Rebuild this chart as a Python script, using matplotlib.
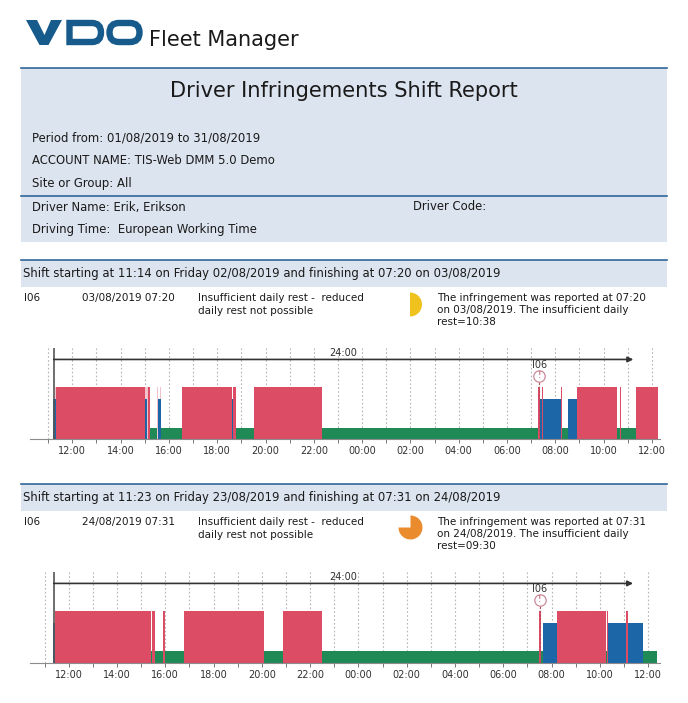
import matplotlib
matplotlib.use("Agg")
import matplotlib.pyplot as plt
from matplotlib.patches import Rectangle, Polygon, FancyBboxPatch, PathPatch
from matplotlib.path import Path

# activity heights on the chart, rest is low, work middle, driving tall
LEVELS = {"rest": 1.0, "pale": 4.5, "work": 3.5, "drive": 4.5}
COLORS = {"rest": "#1f8a55", "pale": "#f3c3cc", "work": "#1c66a8", "drive": "#dc4c64"}

# shift 1, hours counted from midnight of the start day
shift1_start = 11.23
shift1 = [
    ("work", 11.21, 11.33), ("pale", 11.27, 11.33), ("drive", 11.33, 15.0), ("pale", 15.0, 15.14),
    ("work", 15.0, 15.08), ("rest", 15.08, 15.52), ("drive", 15.15, 15.2),
    ("pale", 15.52, 15.56), ("work", 15.55, 15.66), ("pale", 15.65, 15.69),
    ("rest", 15.69, 16.54), ("drive", 16.54, 18.6), ("work", 18.6, 18.64),
    ("drive", 18.64, 18.76), ("rest", 18.76, 19.52), ("drive", 19.52, 22.33),
    ("rest", 22.33, 31.32), ("drive", 31.3, 31.37), ("work", 31.37, 31.44),
    ("drive", 31.44, 31.5), ("work", 31.5, 32.25), ("drive", 32.24, 32.29),
    ("rest", 32.29, 32.54), ("work", 32.54, 32.91), ("drive", 32.91, 34.57),
    ("rest", 34.57, 34.68), ("drive", 34.68, 34.72), ("rest", 34.72, 35.34),
    ("drive", 35.34, 36.24),
]
shift1_marker = 31.33

# shift 2
shift2_start = 11.38
shift2 = [
    ("work", 11.36, 11.45), ("drive", 11.45, 15.39), ("rest", 15.39, 15.46),
    ("drive", 15.46, 15.57), ("rest", 15.57, 15.89), ("drive", 15.89, 15.99),
    ("rest", 15.99, 16.79), ("drive", 16.79, 20.1), ("rest", 20.1, 20.89),
    ("drive", 20.89, 22.49), ("rest", 22.49, 31.49), ("drive", 31.47, 31.57),
    ("rest", 31.57, 31.64), ("work", 31.64, 32.21), ("drive", 32.21, 34.25),
    ("rest", 34.25, 34.28), ("drive", 34.28, 34.36), ("work", 34.36, 35.08),
    ("drive", 35.08, 35.15), ("work", 35.15, 35.8), ("rest", 35.8, 36.39),
]
shift2_marker = 31.52

hours = list(range(11, 37))
hour_labels = ["%02d:00" % (h % 24) if h % 2 == 0 else "" for h in hours]

W, H = 688, 703
TXT = "#1a1a1a"
LINE = "#2f6699"
PANEL = "#dce4ef"

fig = plt.figure(figsize=(W / 100, H / 100), dpi=100)
plt.rcParams["font.family"] = "DejaVu Sans"

# page layer in pixel coordinates
page = fig.add_axes([0, 0, 1, 1])
page.set_xlim(0, W)
page.set_ylim(H, 0)
page.axis("off")


def panel(y0, y1):
    page.add_patch(Rectangle((21, y0), 646, y1 - y0, color=PANEL, lw=0))
    page.plot([21, 667], [y0, y0], color=LINE, lw=1.2)


# logo
logo = "#175a8c"
page.add_patch(Polygon([(26, 20), (37, 20), (44.5, 35), (51, 20), (62, 20), (48.5, 45), (39.5, 45)], color=logo, lw=0))
d_path = Path([(69.5, 23), (92, 23), (101, 23), (101, 32.5), (101, 42), (92, 42), (69.5, 42), (69.5, 23)],
              [Path.MOVETO, Path.LINETO, Path.CURVE3, Path.CURVE3, Path.CURVE3, Path.CURVE3, Path.LINETO, Path.CLOSEPOLY])
page.add_patch(PathPatch(d_path, fc="none", ec=logo, lw=4.6))
page.add_patch(FancyBboxPatch((109.5, 23), 30, 19, boxstyle="round,pad=0,rounding_size=9.5",
                              fc="none", ec=logo, lw=4.6))
page.text(149, 46, "Fleet Manager", fontsize=15, color=TXT, va="baseline")

panel(68, 242)
page.plot([21, 667], [196, 196], color=LINE, lw=1.2)
page.text(343.5, 91, "Driver Infringements Shift Report", fontsize=15.1, color=TXT, ha="center", va="center")
for y, s in [(138, "Period from: 01/08/2019 to 31/08/2019"), (160.5, "ACCOUNT NAME: TIS-Web DMM 5.0 Demo"),
             (184, "Site or Group: All"), (207, "Driver Name: Erik, Erikson"),
             (230, "Driving Time:  European Working Time")]:
    page.text(32, y, s, fontsize=8.4, color=TXT, va="center")
page.text(413, 207, "Driver Code:", fontsize=8.4, color=TXT, va="center")


def section(y, title, code, when, clock, date, rest):
    panel(y, y + 27)
    page.text(23, y + 14, title, fontsize=8.37, color=TXT, va="center")
    page.text(24, y + 38, code, fontsize=7.5, color=TXT, va="center")
    page.text(82, y + 38, when, fontsize=7.5, color=TXT, va="center")
    page.text(198, y + 38, "Insufficient daily rest -  reduced", fontsize=7.5, color=TXT, va="center")
    page.text(198, y + 50.5, "daily rest not possible", fontsize=7.5, color=TXT, va="center")
    page.text(437, y + 38, "The infringement was reported at " + clock, fontsize=7.5, color=TXT, va="center")
    page.text(437, y + 50, "on " + date + ". The insufficient daily", fontsize=7.5, color=TXT, va="center")
    page.text(437, y + 62, "rest=" + rest, fontsize=7.5, color=TXT, va="center")


section(260, "Shift starting at 11:14 on Friday 02/08/2019 and finishing at 07:20 on 03/08/2019",
        "I06", "03/08/2019 07:20", "07:20", "03/08/2019", "10:38")
section(484, "Shift starting at 11:23 on Friday 23/08/2019 and finishing at 07:31 on 24/08/2019",
        "I06", "24/08/2019 07:31", "07:31", "24/08/2019", "09:30")


def pie_icon(cx, cy, r, values, start, color):
    ax = fig.add_axes([(cx - r) / W, 1 - (cy + r) / H, 2 * r / W, 2 * r / H])
    ax.pie(values, startangle=start, counterclock=False, colors=[color, "none"], radius=1)
    ax.set_xlim(-1, 1)
    ax.set_ylim(-1, 1)
    ax.axis("off")


pie_icon(410, 304.5, 12, [50, 50], 90, "#f0c21e")
pie_icon(410.5, 527.5, 12, [75, 25], 90, "#ea8c2e")


def shift_chart(segments, start, marker, x12, px_hour, y_base, y_top):
    # axes span pixel x 30..660, and y from the baseline to the chart top
    xlim = (12 + (30 - x12) / px_hour, 12 + (660 - x12) / px_hour)
    ax = fig.add_axes([30 / W, 1 - y_base / H, 630 / W, (y_base - y_top) / H])
    ax.patch.set_alpha(0)
    ax.set_xlim(xlim)
    ax.set_ylim(0, 7.95)
    for s in ["top", "left", "right"]:
        ax.spines[s].set_visible(False)
    ax.spines["bottom"].set_color("#8c8c8c")
    ax.set_yticks([])
    ax.set_xticks(hours)
    ax.set_xticklabels(hour_labels, fontsize=7.0, color="#303030")
    ax.tick_params(axis="x", length=3, width=0.7, color="#777777", pad=2)
    ax.grid(axis="x", color="#b5b5b5", ls=(0, (1.5, 2)), lw=0.8)
    ax.set_axisbelow(True)

    for kind in ["rest", "pale", "work", "drive"]:
        for k, a, b in segments:
            if k == kind:
                ax.bar(a, LEVELS[k], width=b - a, align="edge", color=COLORS[k], lw=0, zorder=2)

    # 24h span arrow
    ax.plot([start, start], [0, 7.95], color="#555555", lw=1.2, zorder=3)
    ax.annotate("", xy=(start + 24, 6.95), xytext=(start, 6.95),
                arrowprops=dict(arrowstyle="-|>", color="#333333", lw=1.2, shrinkA=0, shrinkB=0, mutation_scale=8),
                zorder=3)
    ax.text(start + 12, 7.05, "24:00", fontsize=7, color="#303030", ha="center", va="bottom")

    # infringement marker
    ax.plot([marker, marker], [0, 5.05], color="#b5485c", lw=0.8, ls=(0, (2, 1.5)), zorder=3)
    ax.plot([marker], [5.52], marker="o", ms=8.2, mfc="white", mec="#c98a98", mew=0.9, zorder=4)
    ax.text(marker, 5.52, "!", fontsize=6.5, color="#b5485c", ha="center", va="center", zorder=5)
    ax.text(marker, 6.5, "I06", fontsize=7, color="#303030", ha="center", va="center", zorder=5)


shift_chart(shift1, shift1_start, shift1_marker, 72.3, 24.15, 439, 348)
shift_chart(shift2, shift2_start, shift2_marker, 68.7, 24.14, 662.7, 572)

fig.savefig("out.png", dpi=100)
